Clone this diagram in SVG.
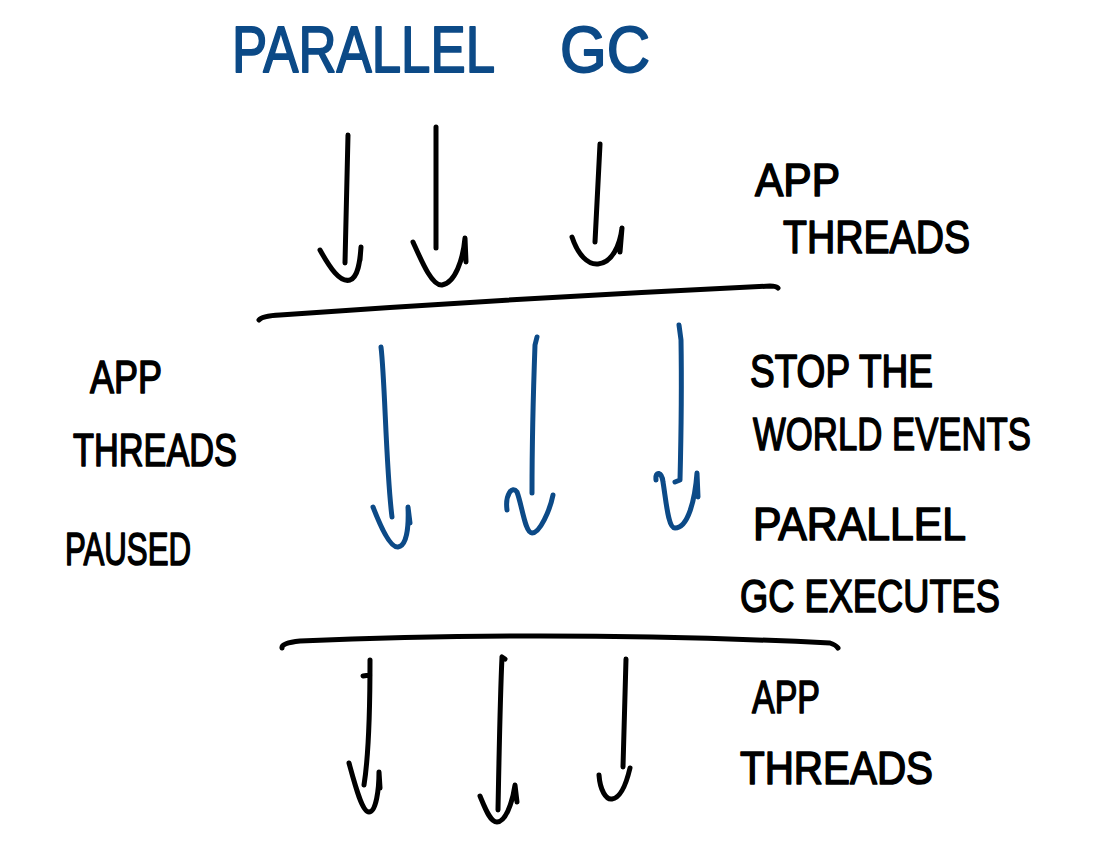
<svg xmlns="http://www.w3.org/2000/svg" width="1114" height="868" viewBox="0 0 1114 868">
  <style>
    .ink { fill: none; stroke: #000; stroke-width: 5; stroke-linecap: round; stroke-linejoin: round; }
    .blue { fill: none; stroke: #0c4a87; stroke-width: 5; stroke-linecap: round; stroke-linejoin: round; }
    .lbl { font-family: "Liberation Sans", Arial, sans-serif; font-size: 46px; fill: #000; stroke: #000; stroke-width: 1.6; stroke-linejoin: round; }
    .title { font-family: "Liberation Sans", Arial, sans-serif; font-size: 64px; fill: #0c4a87; stroke: #0c4a87; stroke-width: 1.8; stroke-linejoin: round; }
  </style>
  <rect width="1114" height="868" fill="#fff"/>

  <!-- heading -->
  <g id="title">
    <text class="title" y="72"><tspan x="232" textLength="263" lengthAdjust="spacingAndGlyphs">PARALLEL</tspan><tspan x="560" textLength="90" lengthAdjust="spacingAndGlyphs">GC</tspan></text>
  </g>

  <!-- labels -->
  <g id="app-threads-running">
    <text class="lbl" x="755" y="196" textLength="85" lengthAdjust="spacingAndGlyphs">APP</text>
    <text class="lbl" x="783" y="253" textLength="187" lengthAdjust="spacingAndGlyphs">THREADS</text>
  </g>
  <g id="app-threads-paused">
    <text class="lbl" x="90" y="393" textLength="72" lengthAdjust="spacingAndGlyphs">APP</text>
    <text class="lbl" x="73" y="466" textLength="164" lengthAdjust="spacingAndGlyphs">THREADS</text>
    <text class="lbl" x="65" y="565" textLength="126" lengthAdjust="spacingAndGlyphs">PAUSED</text>
  </g>
  <g id="stop-the-world">
    <text class="lbl" x="750" y="387" textLength="183" lengthAdjust="spacingAndGlyphs">STOP THE</text>
    <text class="lbl" x="753" y="450" font-size="40" textLength="278" lengthAdjust="spacingAndGlyphs">WORLD EVENTS</text>
  </g>
  <g id="parallel-gc-executes">
    <text class="lbl" x="753" y="540" textLength="213" lengthAdjust="spacingAndGlyphs">PARALLEL</text>
    <text class="lbl" x="740" y="612" textLength="260" lengthAdjust="spacingAndGlyphs">GC EXECUTES</text>
  </g>
  <g id="app-threads-resumed">
    <text class="lbl" x="752" y="713" textLength="68" lengthAdjust="spacingAndGlyphs">APP</text>
    <text class="lbl" x="740" y="784" textLength="193" lengthAdjust="spacingAndGlyphs">THREADS</text>
  </g>

  <!-- safepoint lines -->
  <g id="barriers">
    <path class="ink" d="M259,320 Q262,316 280,315 Q520,298 770,286 Q776,286 778,288"/>
    <path class="ink" d="M282,648 Q281,643 300,641 Q560,630 830,643 Q836,645 838,648"/>
  </g>

  <g id="connectors">
    <!-- application threads before the pause -->
    <path class="ink" d="M348,135 L345,263"/>
    <path class="ink" d="M320,250 C330,268 340,283 350,280 C358,277 360,262 361,247 L360,260"/>
    <path class="ink" d="M436,127 L436,248"/>
    <path class="ink" d="M413,242 C422,262 432,286 442,285 C455,283 463,260 465,238 L466,262"/>
    <path class="ink" d="M600,144 L595,242"/>
    <path class="ink" d="M572,237 C578,255 588,265 598,264 C612,263 620,245 622,228 L620,252"/>

    <!-- GC worker threads -->
    <path class="blue" d="M381,347 C385,380 386,470 392,517"/>
    <path class="blue" d="M373,507 C380,525 390,548 398,547 C406,546 409,530 408,507 L410,523"/>
    <path class="blue" d="M537,337 L535,345 C533,400 532,450 532,493"/>
    <path class="blue" d="M507,510 C505,495 512,485 517,492 C522,505 525,533 532,533 C540,533 550,510 553,495"/>
    <path class="blue" d="M679,325 L681,340 C682,400 681,440 680,480 L675,482"/>
    <path class="blue" d="M656,480 C655,470 662,472 663,482 C666,500 668,528 675,528 C688,528 695,500 697,473 L698,497"/>

    <!-- application threads after the pause -->
    <path class="ink" d="M363,676 L370,675 M370,660 C370,720 368,760 364,785"/>
    <path class="ink" d="M349,763 C355,785 362,812 369,812 C376,812 379,790 379,772 L380,788"/>
    <path class="ink" d="M505,659 L502,657 C500,700 499,760 498,810"/>
    <path class="ink" d="M480,796 C485,808 490,822 497,822 C505,822 512,805 515,785 L517,802"/>
    <path class="ink" d="M626,659 L623,767"/>
    <path class="ink" d="M599,775 C600,790 606,800 612,799 C620,798 626,785 630,768"/>
  </g>
</svg>
